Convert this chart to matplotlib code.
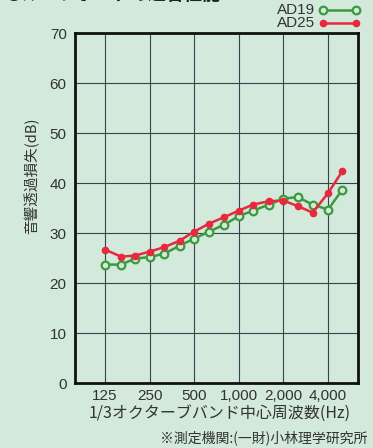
import numpy as np
import matplotlib
matplotlib.use('Agg')
import matplotlib.pyplot as plt

plt.rcParams['font.family'] = ['Noto Sans CJK JP', 'DejaVu Sans']

# 1/3オクターブ中心周波数
freqs = [125, 160, 200, 250, 315, 400, 500, 630, 800, 1000,
         1250, 1600, 2000, 2500, 3150, 4000, 5000]
ad19 = [23.7, 23.7, 24.9, 25.2, 25.9, 27.5, 28.9, 30.3, 31.7, 33.4,
        34.5, 35.7, 36.9, 37.2, 35.7, 34.7, 38.7]
ad25 = [26.7, 25.3, 25.5, 26.3, 27.2, 28.5, 30.3, 31.9, 33.2, 34.5,
        35.7, 36.4, 36.5, 35.4, 34.1, 38.0, 42.4]
tick_freqs = [125, 250, 500, 1000, 2000, 4000]
tick_labels = ['125', '250', '500', '1,000', '2,000', '4,000']

bg = '#d2e9dc'
green = '#3c9a3c'
red = '#e8283c'
txt = '#333333'
num_font = ['Liberation Sans', 'DejaVu Sans']

fig = plt.figure(figsize=(3.73, 4.48), dpi=100, facecolor=bg)
ax = fig.add_axes([0.201, 0.145, 0.759, 0.781])
ax.set_facecolor(bg)

ax.plot(freqs, ad19, '-o', color=green, lw=1.8, ms=5.5,
        mfc=bg, mec=green, mew=1.6, zorder=3)
ax.plot(freqs, ad25, '-o', color=red, lw=1.8, ms=4.5,
        mfc=red, mec=red, zorder=4)

ax.set_xscale('log', base=2)
ax.set_xlim(125 * 2 ** -0.674, 4000 * 2 ** 0.674)
ax.set_ylim(0, 70)
ax.set_xticks(tick_freqs)
ax.set_xticklabels(tick_labels)
ax.xaxis.set_minor_locator(matplotlib.ticker.NullLocator())
ax.set_yticks(range(0, 71, 10))
ax.tick_params(length=0, labelsize=11, pad=6, colors=txt)
ax.tick_params(axis='x', pad=4)
for lab in ax.get_xticklabels() + ax.get_yticklabels():
    lab.set_family(num_font)
ax.grid(True, color='#34454e', lw=0.8)
for s in ax.spines.values():
    s.set_linewidth(2)
    s.set_color('#111111')

fig.text(0.086, 0.607, '音響透過損失(dB)', fontsize=10.5, color=txt,
         rotation=90, ha='center', va='center')
fig.text(0.59, 0.077, '1/3オクターブバンド中心周波数(Hz)', fontsize=11.5,
         color=txt, ha='center', va='center')
fig.text(0.985, 0.022, '※測定機関:(一財)小林理学研究所', fontsize=10,
         color=txt, ha='right', va='center')

# 凡例
fig.text(0.845, 0.977, 'AD19', fontsize=11, color=txt, ha='right', va='center',
         family=num_font)
fig.text(0.845, 0.948, 'AD25', fontsize=11, color=txt, ha='right', va='center',
         family=num_font)
fig.add_artist(plt.Line2D([0.866, 0.955], [0.977, 0.977], color=green, lw=1.8,
                          marker='o', ms=5.5, mfc=bg, mec=green, mew=1.6,
                          transform=fig.transFigure))
fig.add_artist(plt.Line2D([0.866, 0.955], [0.948, 0.948], color=red, lw=1.8,
                          marker='o', ms=4.5, mfc=red, mec=red,
                          transform=fig.transFigure))

# 切れた見出し
fig.text(0.01, 1.013, '●ルーフボードの遮音性能', fontsize=13, color='#222222',
         ha='left', va='center', weight='bold')

fig.savefig('out.png', dpi=100, facecolor=bg)
